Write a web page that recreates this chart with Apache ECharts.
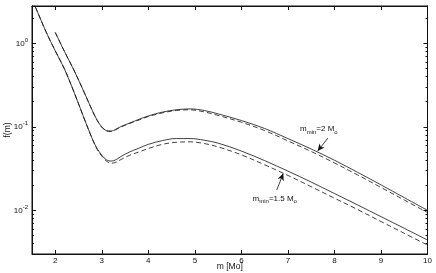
<!DOCTYPE html>
<html><head><meta charset="utf-8">
<script src="https://cdn.jsdelivr.net/npm/echarts@6/dist/echarts.min.js"></script>
<style>html,body{margin:0;padding:0;background:#fff}#c{width:436px;height:273px}</style>
</head><body><div id="c"></div>
<script>
// masses (x values)
const massLow = [1.5,1.6,1.8,2.0,2.2,2.4,2.6,2.8,2.9,3.0,3.1,3.2,3.3,3.4,3.6,3.8,4.0,4.3,4.6,4.9,5.2,5.5,6.0,6.5,7.0,7.5,8.0,8.5,9.0,9.5,10];
const massHigh = [2.0,2.2,2.4,2.6,2.8,2.9,3.0,3.1,3.2,3.3,3.4,3.6,3.8,4.0,4.3,4.6,4.9,5.2,5.5,6.0,6.5,7.0,7.5,8.0,8.5,9.0,9.5,10];
// m_min = 1.5 Mo
const fLowSolid = [3.31,2.51,1.38,0.813,0.490,0.263,0.135,0.0708,0.0550,0.0457,0.0403,0.0389,0.0403,0.0437,0.0501,0.0556,0.0617,0.0684,0.0724,0.0724,0.0692,0.0638,0.0513,0.0394,0.0295,0.0218,0.0159,0.0116,0.00841,0.00610,0.00441];
const fLowDashed = [3.31,2.51,1.38,0.813,0.490,0.263,0.135,0.0708,0.0537,0.0447,0.0389,0.0367,0.0376,0.0403,0.0457,0.0501,0.0550,0.0617,0.0653,0.0661,0.0631,0.0575,0.0462,0.0351,0.0262,0.0192,0.0140,0.0102,0.00735,0.00531,0.00384];
// m_min = 2 Mo
const fHighSolid = [1.35,0.794,0.479,0.275,0.155,0.120,0.100,0.0902,0.0891,0.0935,0.100,0.111,0.123,0.135,0.150,0.160,0.164,0.157,0.143,0.119,0.0955,0.0724,0.0543,0.0398,0.0285,0.0202,0.0142,0.0100];
const fHighDashed = [1.35,0.794,0.479,0.275,0.155,0.120,0.0989,0.0891,0.0881,0.0923,0.0989,0.110,0.121,0.133,0.147,0.157,0.160,0.151,0.137,0.1135,0.0902,0.0679,0.0507,0.0370,0.0265,0.0188,0.0133,0.00942];
// ticks
const xTicks = [2,3,4,5,6,7,8,9,10];
const yMajor = [0.01,0.1,1];
const yMinor = [0.003,0.004,0.005,0.006,0.007,0.008,0.009,0.02,0.03,0.04,0.05,0.06,0.07,0.08,0.09,0.2,0.3,0.4,0.5,0.6,0.7,0.8,0.9,2];
// annotations
const labelHigh = {text:'{i|m}{s|min}{i|=2 M}{s|o}', at:[7.26,0.0938]};
const labelLow = {text:'{i|m}{s|min}{i|=1.5 M}{s|o}', at:[6.24,0.0139]};
const arrowHigh = [[7.86,0.0734],[7.64,0.0513]];
const arrowLow = [[6.76,0.0175],[6.90,0.0277]];

const font = '"Liberation Sans", Arial, Helvetica, sans-serif';
const ink = '#111';
const zip = (xs, ys) => xs.map((x, i) => [x, ys[i]]);
const supRich = {
  b:{fontSize:8, lineHeight:12, fontFamily:font, color:ink},
  s:{fontSize:6, lineHeight:6, verticalAlign:'top', fontFamily:font, color:ink}
};
const subRich = {
  i:{fontSize:8, lineHeight:12, fontFamily:font, color:ink},
  s:{fontSize:6, lineHeight:6, verticalAlign:'bottom', fontFamily:font, color:ink}
};
function xAx(pos, labels){
  return {type:'value', position:pos, min:1.5, max:10,
    axisLine:{show:true, onZero:false, lineStyle:{color:ink, width:1}},
    splitLine:{show:false},
    axisTick:{show:true, inside:true, length:4, customValues:xTicks, lineStyle:{color:ink, width:1}},
    axisLabel:{show:labels, customValues:xTicks, fontSize:8, fontFamily:font, color:ink, margin:3},
    name: labels ? 'm [Mo]' : '', nameLocation:'middle', nameGap:8, nameMoveOverlap:false,
    nameTextStyle:{fontSize:8.5, fontFamily:font, color:ink}};
}
function yAx(pos, ticks, len, labels){
  return {type:'log', logBase:10, position:pos, min:0.003, max:2.8,
    axisLine:{show:true, onZero:false, lineStyle:{color:ink, width:1}},
    splitLine:{show:false}, minorTick:{show:false},
    axisTick:{show:true, inside:true, length:len, customValues:ticks, lineStyle:{color:ink, width:1}},
    axisLabel:{show:labels, customValues:yMajor, margin:4,
      formatter: v => '{b|10}{s|' + Math.round(Math.log10(v)) + '}', rich:supRich},
    name: labels ? 'f(m)' : '', nameLocation:'middle', nameGap:20, nameMoveOverlap:false,
    nameTextStyle:{fontSize:8.5, fontFamily:font, color:ink}};
}
function curve(data, dashed){
  return {type:'line', data:data, xAxisIndex:0, yAxisIndex:0, showSymbol:false, symbol:'none',
    smooth:0.35, silent:true, animation:false,
    lineStyle:{color:ink, width:0.8, type: dashed ? [5,3] : 'solid'}};
}
const chart = echarts.init(document.getElementById('c'), null, {renderer:'canvas'});
chart.setOption({
  animation:false,
  backgroundColor:'#fff',
  grid:{left:32, right:8.5, top:6, bottom:19, containLabel:false, outerBoundsMode:'none',
    show:true, borderColor:ink, borderWidth:1, backgroundColor:'#fff'},
  xAxis:[xAx('bottom', true), xAx('top', false)],
  yAxis:[yAx('left', yMajor, 4, true), yAx('left', yMinor, 2, false), yAx('right', yMajor, 4, false), yAx('right', yMinor, 2, false)],
  series:[
    curve(zip(massLow, fLowSolid), false),
    curve(zip(massLow, fLowDashed), true),
    curve(zip(massHigh, fHighSolid), false),
    curve(zip(massHigh, fHighDashed), true),
    {type:'line', data:[], xAxisIndex:0, yAxisIndex:0, silent:true,
      markLine:{silent:true, symbol:['none','arrow'], symbolSize:[5,7], animation:false,
        lineStyle:{color:ink, width:0.8, type:'solid'}, label:{show:false},
        data:[[{coord:arrowHigh[0]},{coord:arrowHigh[1]}],[{coord:arrowLow[0]},{coord:arrowLow[1]}]]},
      markPoint:{silent:true, symbol:'circle', symbolSize:0, animation:false,
        data:[
          {coord:labelHigh.at, label:{show:true, position:'right', distance:0, formatter:labelHigh.text, rich:subRich}},
          {coord:labelLow.at, label:{show:true, position:'right', distance:0, formatter:labelLow.text, rich:subRich}}
        ]}}
  ]
});
</script></body></html>
